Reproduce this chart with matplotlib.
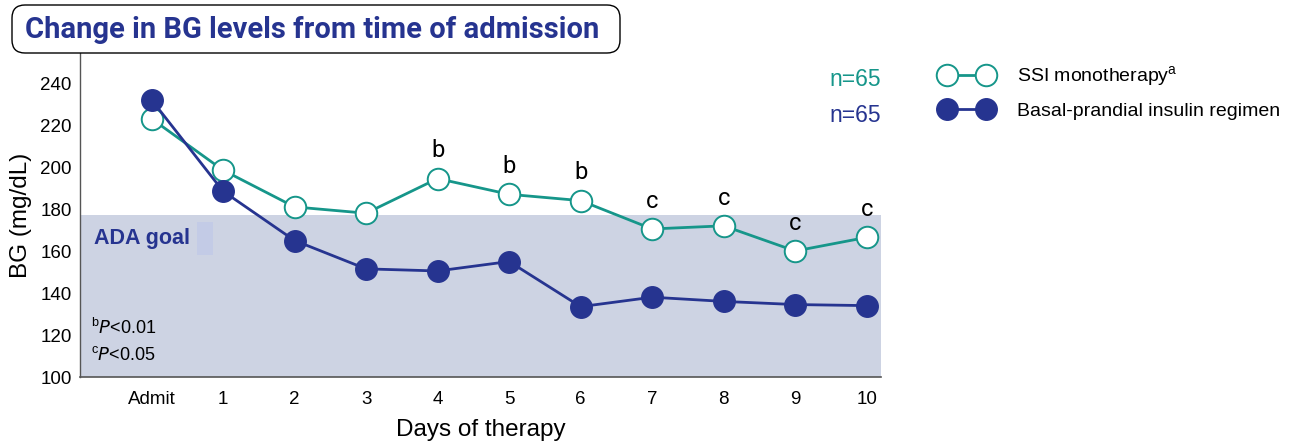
import matplotlib.pyplot as plt
from matplotlib.patches import FancyBboxPatch, Rectangle
from matplotlib.transforms import IdentityTransform
from matplotlib.legend_handler import HandlerLine2D

# data
days = ["Admit", "1", "2", "3", "4", "5", "6", "7", "8", "9", "10"]
ssi = [223, 198.5, 181, 178, 194.5, 187, 184, 170.5, 172, 160, 166.5]
basal = [232, 188.5, 165, 151.5, 150.5, 155, 133.5, 138, 136, 134.5, 134]
sig = ["", "", "", "", "b", "b", "b", "c", "c", "c", "c"]
ada_goal = 177

teal = "#16968a"
navy = "#263490"
shade = "#cdd3e3"

plt.rcParams["font.family"] = ["Liberation Sans", "DejaVu Sans"]

W, H = 1291, 447
fig = plt.figure(figsize=(W / 100, H / 100), dpi=100)
ax = fig.add_axes([80 / W, 70 / H, 801 / W, 324 / H])

x = list(range(len(days)))
ax.set_xlim(-1.0, 10.2)
ax.set_ylim(100, 254.3)

ax.axhspan(100, ada_goal, color=shade, zorder=0, lw=0)
ax.add_patch(Rectangle((0.63, 158), 0.23, 16, color="#c3cbe6", lw=0, zorder=0.5))
ax.text(-0.8, 166, "ADA goal", color=navy, fontsize=15.5, fontweight="bold",
        va="center", ha="left")

ax.plot(x, ssi, "-o", color=teal, lw=2.0, ms=15.5, mfc="white", mec=teal,
        mew=1.4, label="SSI monotherapy$^\\mathregular{a}$", zorder=3)
ax.plot(x, basal, "-o", color=navy, lw=2.0, ms=15.5, mfc=navy, mec=navy,
        label="Basal-prandial insulin regimen", zorder=4)

for xi, yi, s in zip(x, ssi, sig):
    if s:
        ax.annotate(s, (xi, yi), xytext=(0, 20), textcoords="offset points",
                    ha="center", va="center", fontsize=17,
                    family=["Roboto", "Liberation Sans"])

ax.text(10.2, 241.5, "n=65", color=teal, fontsize=16.5, ha="right", va="center")
ax.text(10.2, 224.5, "n=65", color=navy, fontsize=16.5, ha="right", va="center")

ax.text(-0.85, 123.3, "$^\\mathregular{b}$$\\mathit{P}$<0.01", fontsize=13,
        va="center", ha="left")
ax.text(-0.85, 110.5, "$^\\mathregular{c}$$\\mathit{P}$<0.05", fontsize=13,
        va="center", ha="left")

ax.set_xticks(x)
ax.set_xticklabels(days)
for lab in ax.get_xticklabels():
    lab.set_fontsize(11.5 if lab.get_text() == "10" else 13.5)
ax.set_yticks(range(100, 241, 20))
ax.tick_params(axis="both", length=0, labelsize=13.5)
ax.tick_params(axis="x", pad=10)
ax.tick_params(axis="y", pad=6)
ax.set_ylabel("BG (mg/dL)", fontsize=17.5, labelpad=6)
ax.set_xlabel("Days of therapy", fontsize=17.5, labelpad=8)

for side in ["top", "right"]:
    ax.spines[side].set_visible(False)
ax.spines["left"].set_color("#555555")
ax.spines["bottom"].set_color("#555555")
ax.spines["left"].set_linewidth(1.0)
ax.spines["bottom"].set_linewidth(1.2)

ax.legend(loc="upper left", bbox_to_anchor=(935 / W, 1 - 64 / H),
          bbox_transform=fig.transFigure, frameon=False, numpoints=2,
          handlelength=3.2, handletextpad=1.0, labelspacing=0.7,
          borderpad=0, borderaxespad=0, fontsize=14,
          handler_map={ax.lines[0]: HandlerLine2D(marker_pad=0.6),
                       ax.lines[1]: HandlerLine2D(marker_pad=0.6)})

# title box, in pixel coordinates
box = FancyBboxPatch((12, H - 53), 608, 48,
                     boxstyle="round,pad=0,rounding_size=13",
                     transform=IdentityTransform(), facecolor="white",
                     edgecolor="black", lw=1.0)
fig.patches.append(box)
fig.text(312 / W, 1 - 30 / H, "Change in BG levels from time of admission",
         color=navy, fontsize=21, fontweight="bold", ha="center", va="center",
         family=["Roboto", "DejaVu Sans"])

fig.savefig("out.png", dpi=100)
